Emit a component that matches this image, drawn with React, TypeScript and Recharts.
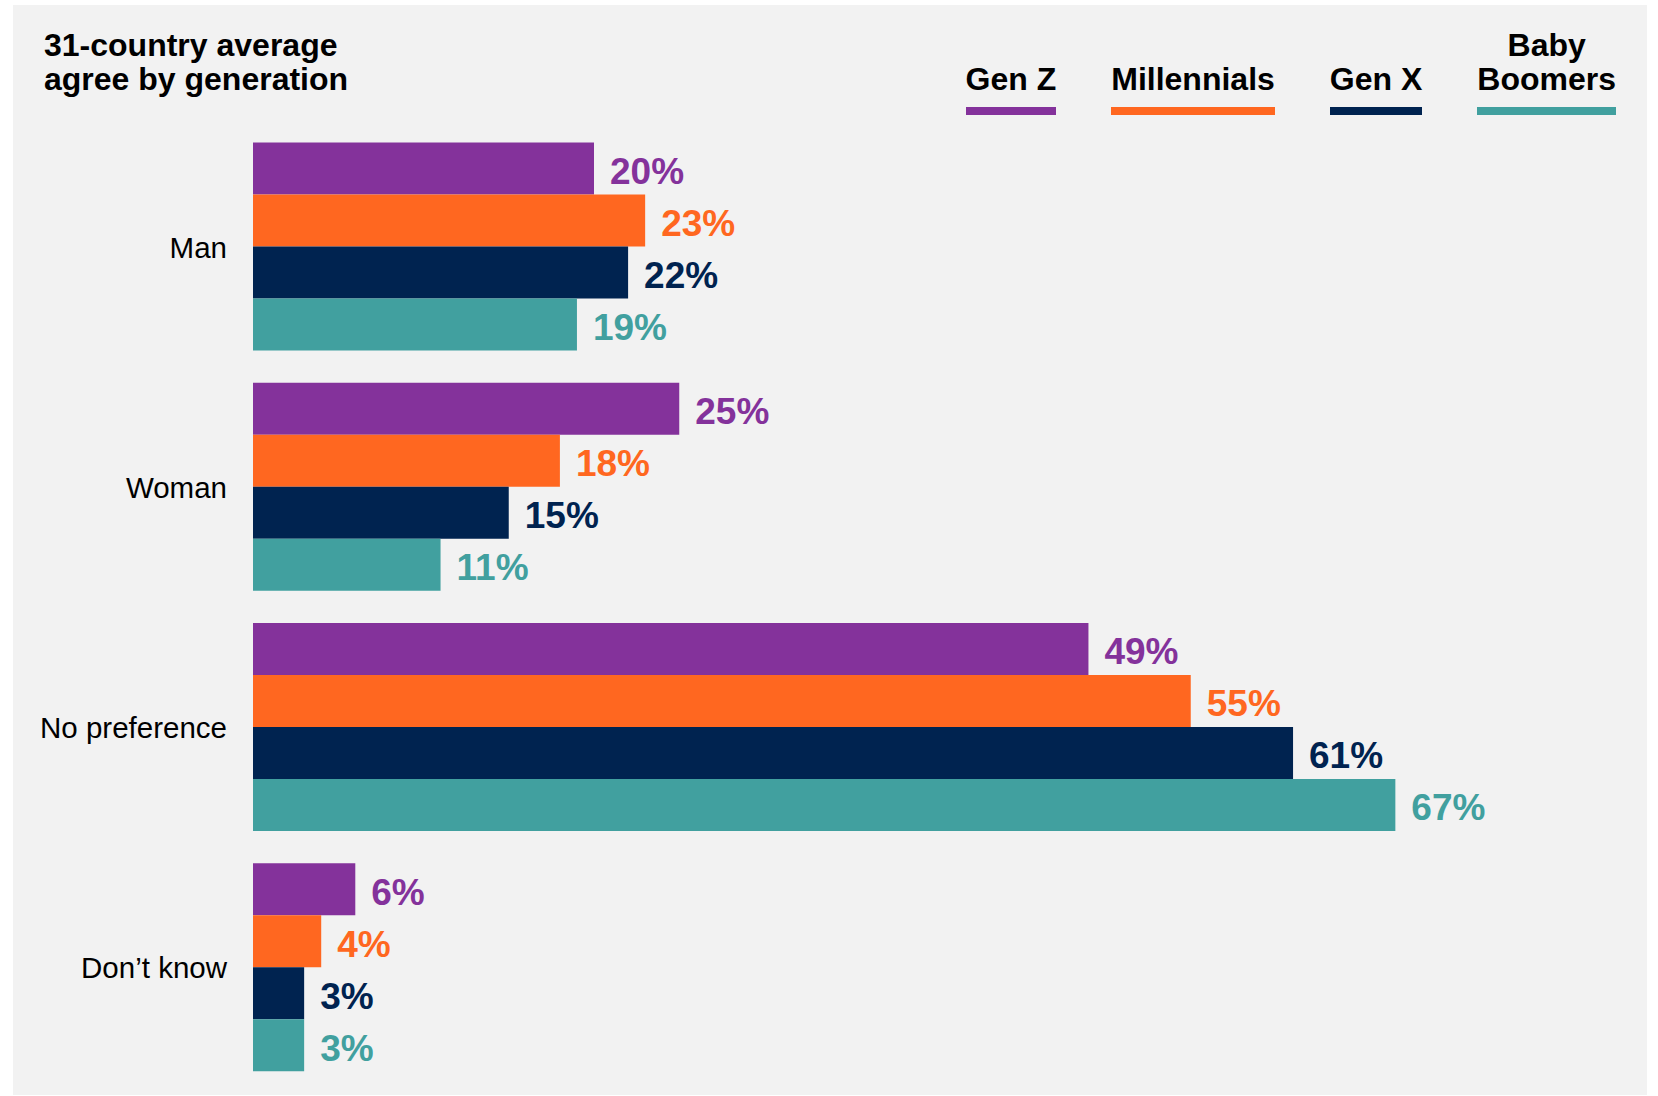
import { BarChart, Bar, XAxis, YAxis, LabelList } from "recharts";

// 31-country average, % agree, by generation
const categories = ["Man", "Woman", "No preference", "Don’t know"];
const genZ = [20, 25, 49, 6];
const millennials = [23, 18, 55, 4];
const genX = [22, 15, 61, 3];
const boomers = [19, 11, 67, 3];

const SERIES = [
  { key: "genZ", lines: ["Gen Z"], color: "#84329B" },
  { key: "millennials", lines: ["Millennials"], color: "#FF6720" },
  { key: "genX", lines: ["Gen X"], color: "#002350" },
  { key: "boomers", lines: ["Baby", "Boomers"], color: "#41A09F" },
];

const data = categories.map((name, i) => ({
  name,
  genZ: genZ[i],
  millennials: millennials[i],
  genX: genX[i],
  boomers: boomers[i],
}));

const FONT = '"Liberation Sans", Arial, Helvetica, sans-serif';
const W = 1658;
const H = 1096;

function Legend() {
  return (
    <div
      style={{
        position: "absolute",
        top: 28,
        right: 42,
        display: "flex",
        alignItems: "flex-end",
        gap: 55,
        fontSize: 32,
        fontWeight: "bold",
        lineHeight: "34px",
        color: "#000",
      }}
    >
      {SERIES.map((s) => (
        <div
          key={s.key}
          style={{
            textAlign: "center",
            paddingBottom: 11,
            borderBottom: `8px solid ${s.color}`,
            whiteSpace: "nowrap",
          }}
        >
          {s.lines.map((l) => (
            <div key={l}>{l}</div>
          ))}
        </div>
      ))}
    </div>
  );
}

export default function App() {
  return (
    <div
      style={{
        position: "absolute",
        left: 0,
        top: 0,
        width: W,
        height: H,
        background: "#fff",
        fontFamily: FONT,
      }}
    >
      <div
        style={{
          position: "absolute",
          left: 13,
          top: 5,
          width: 1634,
          height: 1090,
          background: "#F2F2F2",
        }}
      />
      <div
        style={{
          position: "absolute",
          left: 44,
          top: 28,
          fontSize: 32,
          fontWeight: "bold",
          lineHeight: "34px",
          color: "#000",
        }}
      >
        31-country average
        <br />
        agree by generation
      </div>
      <Legend />
      <div style={{ position: "absolute", left: 0, top: 0 }}>
        <BarChart
          width={W}
          height={H}
          data={data}
          layout="vertical"
          margin={{ top: 127, right: 41, bottom: 8, left: 0 }}
          barCategoryGap="6.5%"
          barGap={0}
        >
          <XAxis type="number" domain={[0, 80]} hide />
          <YAxis
            type="category"
            dataKey="name"
            width={253}
            axisLine={false}
            tickLine={false}
            tickSize={0}
            tickMargin={26}
            interval={0}
            tick={{ fontSize: 29.5, fill: "#000", fontFamily: FONT }}
          />
          {SERIES.map((s) => (
            <Bar key={s.key} dataKey={s.key} fill={s.color} isAnimationActive={false}>
              <LabelList
                dataKey={s.key}
                position="right"
                offset={16}
                dy={2}
                formatter={(v: any) => `${v}%`}
                fill={s.color}
                fontSize={37}
                fontWeight="bold"
                fontFamily={FONT}
              />
            </Bar>
          ))}
        </BarChart>
      </div>
    </div>
  );
}
